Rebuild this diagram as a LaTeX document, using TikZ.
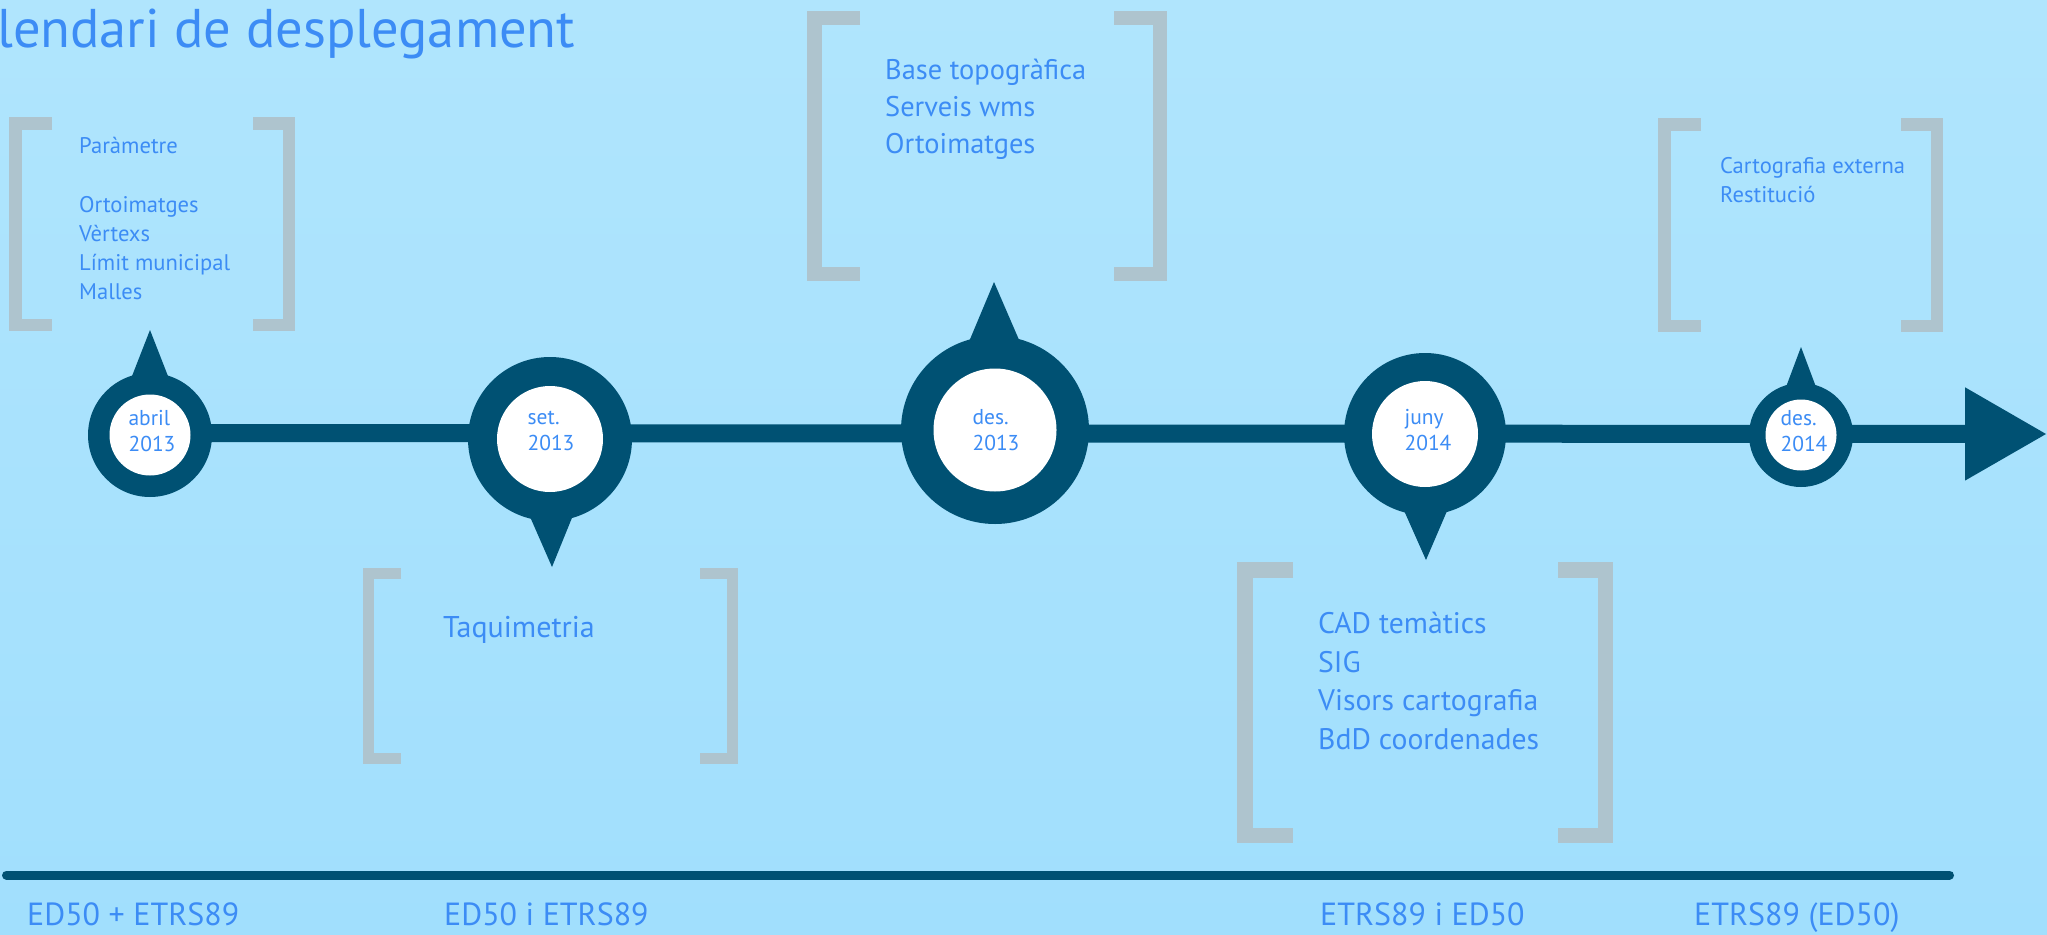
\documentclass[tikz,border=0pt]{standalone}
\usepackage{fontspec}
\setmainfont{PT Sans}
\usetikzlibrary{calc,arrows.meta}
\definecolor{navy}{RGB}{0,81,115}
\definecolor{txtblue}{RGB}{60,140,245}
\definecolor{brkcol}{RGB}{174,196,206}
\definecolor{bgtop}{RGB}{176,229,253}
\definecolor{bgbot}{RGB}{161,223,253}
\begin{document}
\begin{tikzpicture}[x=1pt,y=-1pt,
  pinout/.style={circle, fill=navy, inner sep=0},
  pinin/.style={circle, fill=white, inner sep=0},
  datetxt/.style={inner sep=0, text=txtblue, align=left, font=\fontsize{21.5}{26}\selectfont},
  lbl/.style={anchor=base west, inner sep=0, text=txtblue},
  brk/.style={draw=brkcol, line cap=butt, line join=miter},
  axis/.style={draw=navy, line width=18, -{Triangle[length=82pt,width=88pt]}},
  basebar/.style={draw=navy, line width=9, line cap=round}]
\useasboundingbox (0,0) rectangle (2047,934);
\shade[top color=bgtop, bottom color=bgbot] (0,0) rectangle (2047,934);

% title
\node[lbl, font=\fontsize{54.5}{62}\selectfont] (title) at (-3,48) {lendari de desplegament};

% timeline coordinates
\coordinate (t1) at (150,435);
\coordinate (t2) at (550,439);
\coordinate (t3) at (995,430);
\coordinate (t4) at (1425,434);
\coordinate (t5) at (1801,435);
\coordinate (a0) at (150,433);
\coordinate (tip) at (2047,434);
\draw[axis] (a0) -- (tip);

% pointers
\coordinate (p1) at (150,330);
\coordinate (p2) at (552,567);
\coordinate (p3) at (994,282);
\coordinate (p4) at (1426,560);
\coordinate (p5) at (1801,347);
\fill[navy] (p1) -- ($(t1)+(-41,0)$) -- ($(t1)+(41,0)$) -- cycle;
\fill[navy] (p2) -- ($(t2)+(-54,0)$) -- ($(t2)+(54,0)$) -- cycle;
\fill[navy] (p3) -- ($(t3)+(-63,0)$) -- ($(t3)+(63,0)$) -- cycle;
\fill[navy] (p4) -- ($(t4)+(-55,0)$) -- ($(t4)+(55,0)$) -- cycle;
\fill[navy] (p5) -- ($(t5)+(-33,0)$) -- ($(t5)+(33,0)$) -- cycle;

% circles
\node[pinout, minimum size=124] (c1) at (t1) {};
\node[pinout, minimum size=164] (c2) at (t2) {};
\node[pinout, minimum size=188] (c3) at (t3) {};
\node[pinout, minimum size=162] (c4) at (t4) {};
\node[pinout, minimum size=104] (c5) at (t5) {};
\node[pinin, minimum size=81] (w1) at (t1) {};
\node[pinin, minimum size=106] (w2) at (t2) {};
\node[pinin, minimum size=123] (w3) at (t3) {};
\node[pinin, minimum size=106] (w4) at (t4) {};
\node[pinin, minimum size=71] (w5) at (t5) {};
\node[datetxt] (d1) at ($(t1)+(2,-4)$) {abril\\2013};
\node[datetxt] (d2) at ($(t2)+(1,-8)$) {set.\\2013};
\node[datetxt] (d3) at ($(t3)+(1,0)$) {des.\\2013};
\node[datetxt] (d4) at ($(t4)+(3,-4)$) {juny\\2014};
\node[datetxt] (d5) at ($(t5)+(3,-4)$) {des.\\2014};

% brackets
\draw[brk, line width=12.5] (52,123.25) -- (15.25,123.25) -- (15.25,324.75) -- (52,324.75);
\draw[brk, line width=12.5] (253,123.25) -- (288.75,123.25) -- (288.75,324.75) -- (253,324.75);
\draw[brk, line width=11] (401,573.5) -- (368.5,573.5) -- (368.5,758.5) -- (401,758.5);
\draw[brk, line width=11] (700,573.5) -- (732.5,573.5) -- (732.5,758.5) -- (700,758.5);
\draw[brk, line width=14.5] (860,18.25) -- (814.25,18.25) -- (814.25,273.75) -- (860,273.75);
\draw[brk, line width=14.5] (1114,18.25) -- (1159.75,18.25) -- (1159.75,273.75) -- (1114,273.75);
\draw[brk, line width=15.5] (1293,569.75) -- (1244.75,569.75) -- (1244.75,835.25) -- (1293,835.25);
\draw[brk, line width=15.5] (1558,569.75) -- (1605.25,569.75) -- (1605.25,835.25) -- (1558,835.25);
\draw[brk, line width=12.5] (1701,124.25) -- (1664.25,124.25) -- (1664.25,325.75) -- (1701,325.75);
\draw[brk, line width=12.5] (1901,124.25) -- (1936.75,124.25) -- (1936.75,325.75) -- (1901,325.75);

% box texts
\begin{scope}[every node/.style={lbl, font=\fontsize{22.6}{26}\selectfont}]
\node (b1a) at (79,153) {Paràmetre};
\node (b1b) at (79,212) {Ortoimatges};
\node (b1c) at (79,241) {Vèrtexs};
\node (b1d) at (79,270) {Límit municipal};
\node (b1e) at (79,299) {Malles};
\end{scope}
\node[lbl, font=\fontsize{30}{34}\selectfont] (b2a) at (443,637) {Taquimetria};
\begin{scope}[every node/.style={lbl, font=\fontsize{28.4}{34}\selectfont}]
\node (b3a) at (885,79) {Base topogràfica};
\node (b3b) at (885,116) {Serveis wms};
\node (b3c) at (885,153) {Ortoimatges};
\end{scope}
\begin{scope}[every node/.style={lbl, font=\fontsize{29.7}{36}\selectfont}]
\node (b4a) at (1318,633) {CAD temàtics};
\node (b4b) at (1318,672) {SIG};
\node (b4c) at (1318,710) {Visors cartografia};
\node (b4d) at (1318,749) {BdD coordenades};
\end{scope}
\begin{scope}[every node/.style={lbl, font=\fontsize{22.6}{26}\selectfont}]
\node (b5a) at (1720,173) {Cartografia externa};
\node (b5b) at (1720,202) {Restitució};
\end{scope}

% bottom bar and labels
\coordinate (bl) at (6.5,875);
\coordinate (br) at (1949.5,875);
\draw[basebar] (bl) -- (br);
\begin{scope}[every node/.style={lbl, font=\fontsize{32}{36}\selectfont}]
\node (e1) at (27,925) {ED50 + ETRS89};
\node (e2) at (444,925) {ED50 i ETRS89};
\node (e3) at (1320,925) {ETRS89 i ED50};
\node (e4) at (1694,925) {ETRS89 (ED50)};
\end{scope}
\end{tikzpicture}
\end{document}
